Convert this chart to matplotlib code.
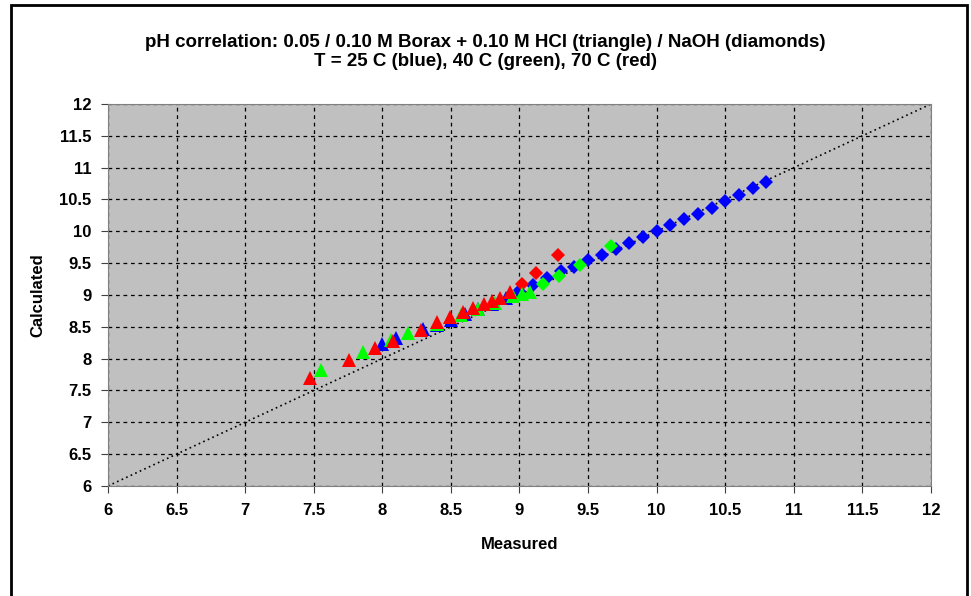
import matplotlib.pyplot as plt
from matplotlib.patches import Rectangle

plt.rcParams['font.family'] = ['Liberation Sans', 'DejaVu Sans']

# 25 C, HCl (triangles)
blue_tri_x = [8.00, 8.10, 8.30, 8.40, 8.50, 8.60, 8.70, 8.80, 8.90]
blue_tri_y = [8.23, 8.32, 8.47, 8.53, 8.61, 8.70, 8.78, 8.86, 8.95]
# 40 C, HCl
green_tri_x = [7.55, 7.86, 8.06, 8.19, 8.40, 8.57, 8.70, 8.82, 8.95, 9.02, 9.08]
green_tri_y = [7.82, 8.11, 8.29, 8.40, 8.55, 8.69, 8.78, 8.88, 8.98, 9.01, 9.04]
# 70 C, HCl
red_tri_x = [7.47, 7.76, 7.95, 8.08, 8.28, 8.40, 8.49, 8.59, 8.66, 8.74, 8.80, 8.86, 8.93]
red_tri_y = [7.69, 7.98, 8.16, 8.28, 8.45, 8.57, 8.66, 8.74, 8.80, 8.86, 8.90, 8.95, 9.05]

# NaOH (diamonds)
blue_dia_x = [9.0, 9.1, 9.2, 9.3, 9.4, 9.5, 9.6, 9.7, 9.8, 9.9, 10.0,
              10.1, 10.2, 10.3, 10.4, 10.5, 10.6, 10.7, 10.8]
blue_dia_y = [9.07, 9.15, 9.26, 9.37, 9.44, 9.55, 9.63, 9.72, 9.81, 9.91, 10.01,
              10.10, 10.19, 10.28, 10.37, 10.47, 10.57, 10.68, 10.77]
green_dia_x = [9.17, 9.29, 9.44, 9.67]
green_dia_y = [9.17, 9.30, 9.47, 9.77]
red_dia_x = [9.02, 9.12, 9.28]
red_dia_y = [9.18, 9.34, 9.63]

ticks = [6, 6.5, 7, 7.5, 8, 8.5, 9, 9.5, 10, 10.5, 11, 11.5, 12]
tick_labels = ["6", "6.5", "7", "7.5", "8", "8.5", "9", "9.5", "10", "10.5", "11", "11.5", "12"]

fig = plt.figure(figsize=(9.71, 5.96), dpi=100)
fig.patches.append(Rectangle((0.011, -0.01), 0.985, 1.002, transform=fig.transFigure,
                             fill=False, edgecolor="black", linewidth=2))
ax = fig.add_axes([0.1112, 0.1846, 0.8476, 0.6409])
ax.set_facecolor("#C0C0C0")

ax.plot([6, 12], [6, 12], linestyle=(0, (1, 2)), color="black", linewidth=1.2, zorder=1)

ax.plot(blue_dia_x, blue_dia_y, "D", color="#0000FF", markersize=7, markeredgewidth=0, zorder=3)
ax.plot(green_dia_x, green_dia_y, "D", color="#00FF00", markersize=7, markeredgewidth=0, zorder=3)
ax.plot(red_dia_x, red_dia_y, "D", color="#FF0000", markersize=7, markeredgewidth=0, zorder=3)
ax.plot(blue_tri_x, blue_tri_y, "^", color="#0000FF", markersize=10, markeredgewidth=0, zorder=3)
ax.plot(green_tri_x, green_tri_y, "^", color="#00FF00", markersize=10, markeredgewidth=0, zorder=4)
ax.plot(red_tri_x, red_tri_y, "^", color="#FF0000", markersize=10, markeredgewidth=0, zorder=5)

ax.set_xlim(6, 12)
ax.set_ylim(6, 12)
ax.set_xticks(ticks)
ax.set_xticklabels(tick_labels)
ax.set_yticks(ticks)
ax.set_yticklabels(tick_labels)
ax.grid(True, color="black", linestyle=(0, (3, 3)), linewidth=0.9)
ax.set_axisbelow(True)
for s in ax.spines.values():
    s.set_color("#808080")
ax.tick_params(direction="out", length=5, color="#404040", labelsize=12, pad=7)
for lab in ax.get_xticklabels() + ax.get_yticklabels():
    lab.set_fontweight("bold")

ax.set_xlabel("Measured", fontsize=12, fontweight="bold", labelpad=14)
ax.set_ylabel("Calculated", fontsize=12, fontweight="bold", labelpad=10)
fig.text(0.5, 0.913, "pH correlation: 0.05 / 0.10 M Borax + 0.10 M HCl (triangle) / NaOH (diamonds)\n"
         "T = 25 C (blue), 40 C (green), 70 C (red)",
         ha="center", va="center", fontsize=13.5, fontweight="bold", linespacing=1.1)

fig.savefig("out.png", dpi=100)
